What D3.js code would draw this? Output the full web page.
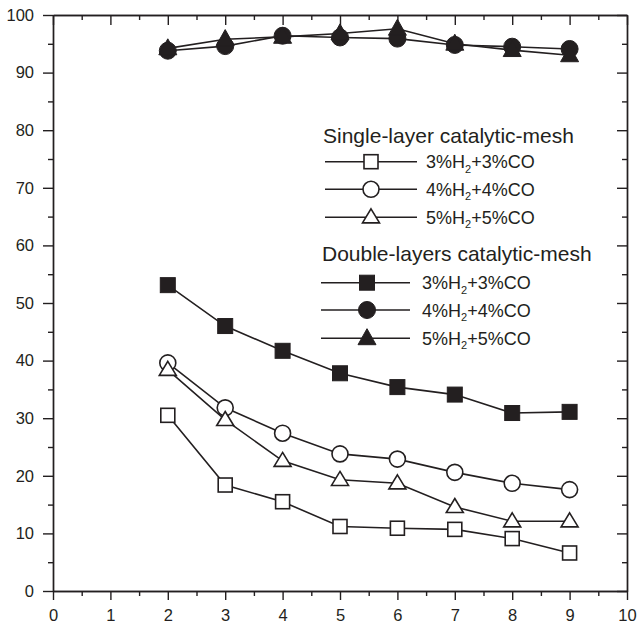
<!DOCTYPE html>
<html><head><meta charset="utf-8">
<script src="https://cdn.jsdelivr.net/npm/d3@7"></script>
<style>body{margin:0;background:#fff}svg{display:block}text{font-family:"Liberation Sans",Arial,sans-serif;fill:#231f20}</style>
</head><body><svg id="c" width="638" height="628"></svg>
<script>
const xVals = [2,3,4,5,6,7,8,9];
const singleSq = [30.5,18.4,15.5,11.2,10.9,10.7,9.1,6.6];
const singleCi = [39.6,31.8,27.4,23.8,22.9,20.6,18.7,17.6];
const singleTr = [38.4,29.7,22.6,19.3,18.7,14.6,12.1,12.1];
const doubleSq = [53.1,46.0,41.7,37.8,35.4,34.1,30.9,31.1];
const doubleCi = [93.8,94.6,96.4,96.1,95.9,94.8,94.5,94.1];
const doubleTr = [94.2,95.8,96.2,96.8,97.6,95.0,93.9,93.0];
const xTicks = [0,1,2,3,4,5,6,7,8,9,10];
const yTicks = [0,10,20,30,40,50,60,70,80,90,100];
const legendTitles = ["Single-layer catalytic-mesh","Double-layers catalytic-mesh"];
const legendLabels = [["3%","H","2","+3%CO"],["4%","H","2","+4%CO"],["5%","H","2","+5%CO"]];

const svg = d3.select("#c");
const L=53,R=627,T=15,B=591;
const x = d3.scaleLinear().domain([0,10]).range([L,R]);
const y = d3.scaleLinear().domain([0,100]).range([B,T]);
const col="#231f20";

// axes
const gb = svg.append("g").attr("transform",`translate(0,${B})`)
  .call(d3.axisBottom(x).tickValues(xTicks).tickSize(9).tickSizeOuter(0).tickPadding(9));
const gbm = svg.append("g").attr("transform",`translate(0,${B})`)
  .call(d3.axisBottom(x).tickValues(d3.range(0.5,10,1)).tickSize(5).tickFormat("").tickSizeOuter(0));
const gl = svg.append("g").attr("transform",`translate(${L},0)`)
  .call(d3.axisLeft(y).tickValues(yTicks).tickSize(10).tickSizeOuter(0).tickPadding(9));
const glm = svg.append("g").attr("transform",`translate(${L},0)`)
  .call(d3.axisLeft(y).tickValues(d3.range(5,100,10)).tickSize(5).tickFormat("").tickSizeOuter(0));
const gt = svg.append("g").attr("transform",`translate(0,${T})`)
  .call(d3.axisBottom(x).tickValues(xTicks).tickSize(10).tickFormat("").tickSizeOuter(0));
const gtm = svg.append("g").attr("transform",`translate(0,${T})`)
  .call(d3.axisBottom(x).tickValues(d3.range(0.5,10,1)).tickSize(5).tickFormat("").tickSizeOuter(0));
const gr = svg.append("g").attr("transform",`translate(${R},0)`)
  .call(d3.axisLeft(y).tickValues(yTicks).tickSize(10).tickFormat("").tickSizeOuter(0));
const grm = svg.append("g").attr("transform",`translate(${R},0)`)
  .call(d3.axisLeft(y).tickValues(d3.range(5,100,10)).tickSize(5).tickFormat("").tickSizeOuter(0));
[gb,gbm,gl,glm,gt,gtm,gr,grm].forEach(g=>{
  g.selectAll("path,line").attr("stroke",col).attr("stroke-width",1.4);
  g.selectAll("text").attr("font-size",16.5).attr("fill",col).style("font-family","'Liberation Sans',Arial,sans-serif");
});

function marker(g,type,filled,cx,cy){
  const fill = filled?col:"#fff";
  if(type==="sq"){
    const s=filled?15:14;
    g.append("rect").attr("x",cx-s/2).attr("y",cy-s/2).attr("width",s).attr("height",s)
     .attr("fill",fill).attr("stroke",col).attr("stroke-width",filled?1:1.6);
  } else if(type==="ci"){
    g.append("circle").attr("cx",cx).attr("cy",cy).attr("r",filled?8.5:8)
     .attr("fill",fill).attr("stroke",col).attr("stroke-width",filled?1:1.6);
  } else {
    const w=filled?18:17,h=filled?16:14;
    g.append("path").attr("d",`M${cx},${cy-h*0.6}L${cx+w/2},${cy+h*0.4}L${cx-w/2},${cy+h*0.4}Z`)
     .attr("fill",fill).attr("stroke",col).attr("stroke-width",filled?1:1.6).attr("stroke-linejoin","miter");
  }
}

const series = [
  {v:singleSq,t:"sq",f:false},{v:singleCi,t:"ci",f:false},{v:singleTr,t:"tr",f:false},
  {v:doubleSq,t:"sq",f:true},{v:doubleCi,t:"ci",f:true},{v:doubleTr,t:"tr",f:true}
];
const line = d3.line().x((d,i)=>x(xVals[i])).y(d=>y(d));
const plot = svg.append("g");
series.forEach(s=>{
  plot.append("path").attr("d",line(s.v)).attr("fill","none").attr("stroke",col).attr("stroke-width",1.6);
});
series.forEach(s=>{
  const g=plot.append("g");
  s.v.forEach((d,i)=>marker(g,s.t,s.f,x(xVals[i]),y(d)));
});

// legend
const lg = svg.append("g");
const tStyle=(t,fs)=>t.attr("font-size",fs).attr("fill",col);
function entry(yy,x0,x1,mx,tx,type,filled,lab){
  lg.append("line").attr("x1",x0).attr("x2",x1).attr("y1",yy).attr("y2",yy).attr("stroke",col).attr("stroke-width",1.6);
  marker(lg,type,filled,mx,yy);
  const t=lg.append("text").attr("x",tx).attr("y",yy+6.5).attr("font-size",18).attr("fill",col);
  t.append("tspan").text(lab[0]+lab[1]);
  t.append("tspan").attr("font-size",11).attr("dy",4.5).text(lab[2]);
  t.append("tspan").attr("dy",-4.5).text(lab[3]);
}
tStyle(lg.append("text").attr("x",323).attr("y",142.5).text(legendTitles[0]),21);
const types=["sq","ci","tr"];
[161.7,189.3,217.3].forEach((yy,i)=>entry(yy,325,417,371,426,types[i],false,legendLabels[i]));
tStyle(lg.append("text").attr("x",322).attr("y",261).text(legendTitles[1]),21);
[282.7,310,338.3].forEach((yy,i)=>entry(yy,321,410,367,422,types[i],true,legendLabels[i]));
</script></body></html>
